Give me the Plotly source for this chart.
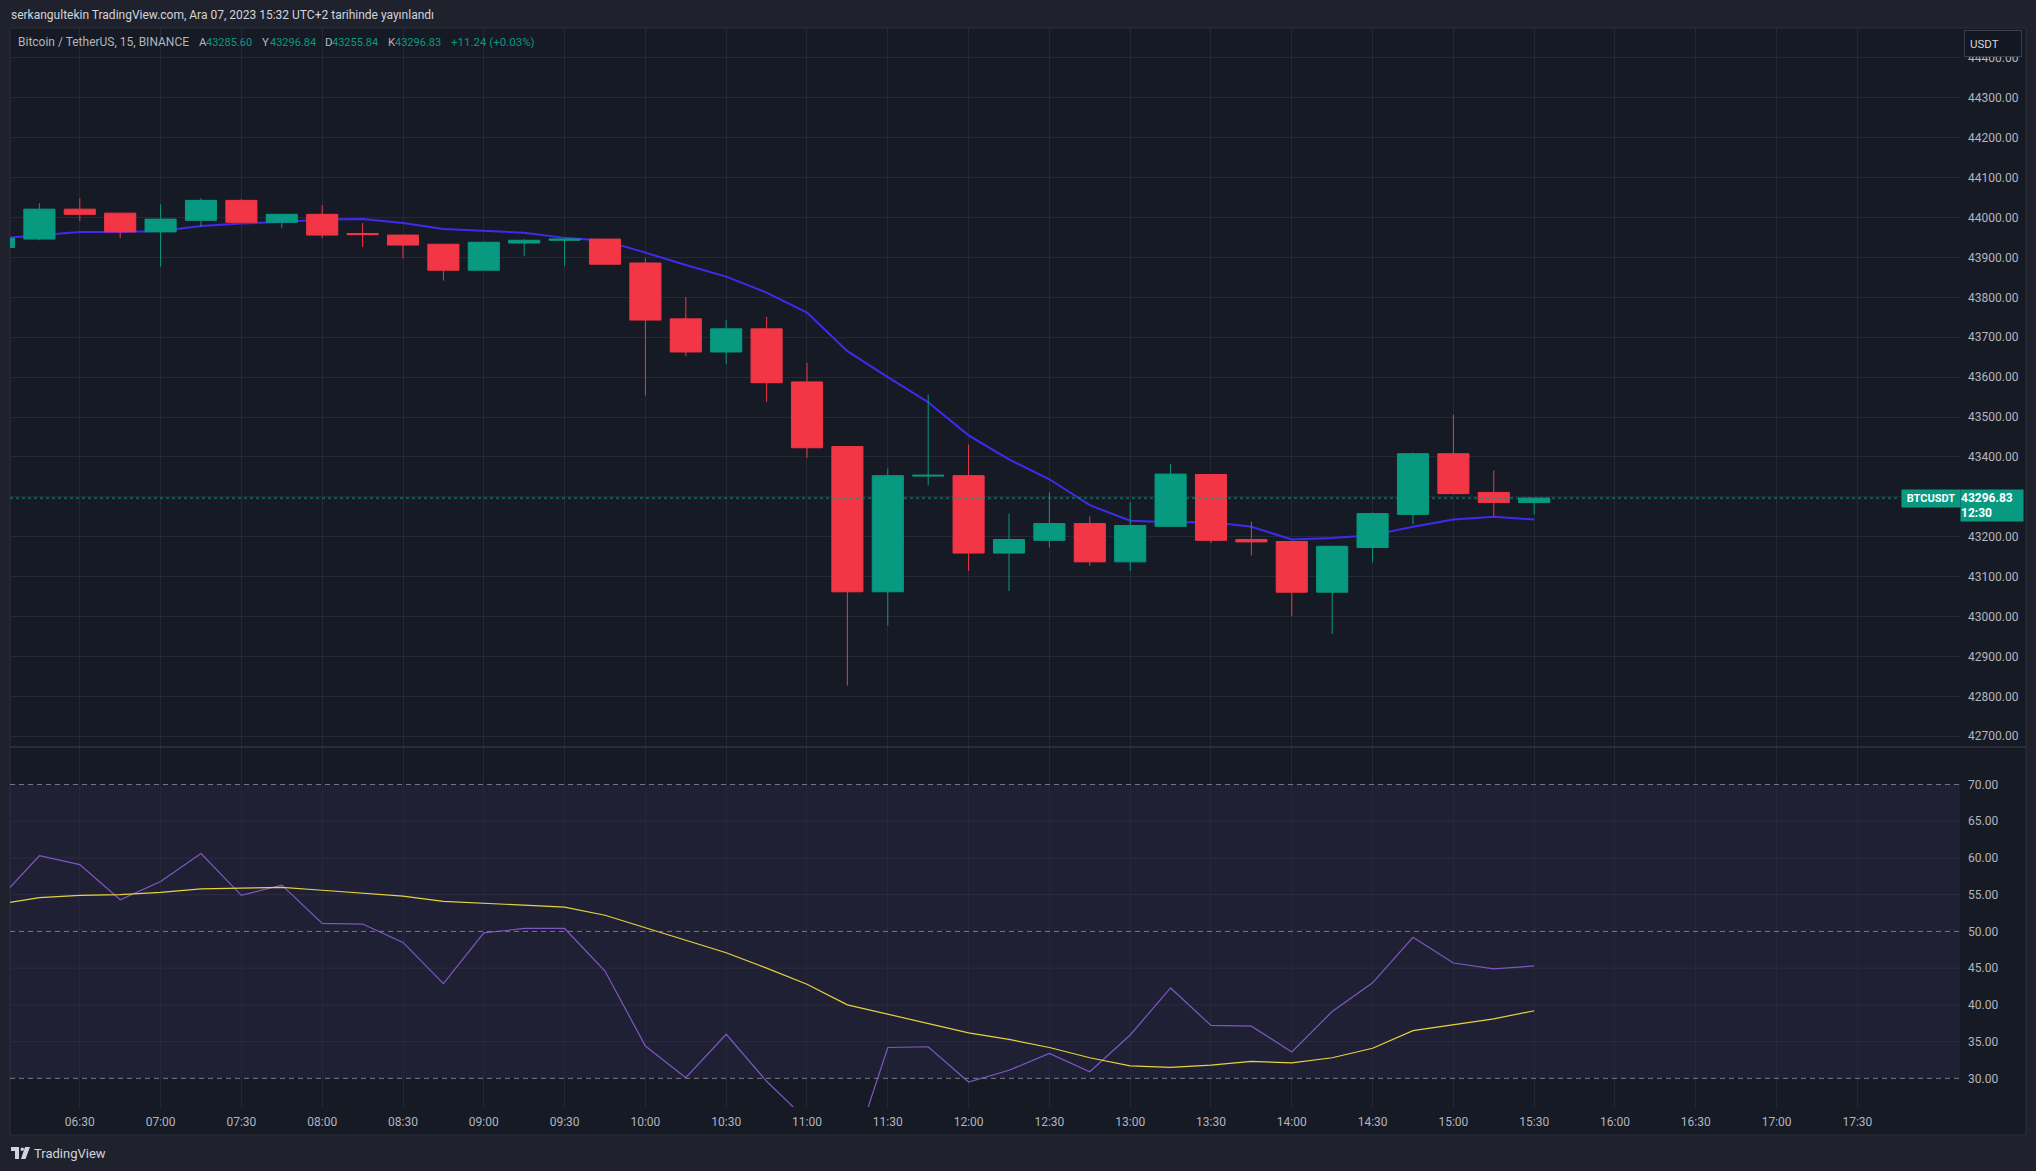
import plotly.graph_objects as go

W, H = 2036, 1171

# ---------------- data ----------------
times = [
    "2023-12-07 06:00", "2023-12-07 06:15", "2023-12-07 06:30", "2023-12-07 06:45",
    "2023-12-07 07:00", "2023-12-07 07:15", "2023-12-07 07:30", "2023-12-07 07:45",
    "2023-12-07 08:00", "2023-12-07 08:15", "2023-12-07 08:30", "2023-12-07 08:45",
    "2023-12-07 09:00", "2023-12-07 09:15", "2023-12-07 09:30", "2023-12-07 09:45",
    "2023-12-07 10:00", "2023-12-07 10:15", "2023-12-07 10:30", "2023-12-07 10:45",
    "2023-12-07 11:00", "2023-12-07 11:15", "2023-12-07 11:30", "2023-12-07 11:45",
    "2023-12-07 12:00", "2023-12-07 12:15", "2023-12-07 12:30", "2023-12-07 12:45",
    "2023-12-07 13:00", "2023-12-07 13:15", "2023-12-07 13:30", "2023-12-07 13:45",
    "2023-12-07 14:00", "2023-12-07 14:15", "2023-12-07 14:30", "2023-12-07 14:45",
    "2023-12-07 15:00", "2023-12-07 15:15", "2023-12-07 15:30",
]
opens = [43925, 43946, 44021, 44011, 43964, 43993, 44043, 43988, 44008, 43960,
         43956, 43933, 43868, 43936, 43943, 43946, 43886, 43746, 43663, 43721,
         43588, 43426, 43062, 43352, 43353, 43159, 43191, 43233, 43137, 43226,
         43356, 43193, 43188, 43061, 43173, 43256, 43408, 43311, 43285.60]
highs = [43953, 44036, 44048, 44011, 44033, 44048, 44046, 44008, 44031, 43986,
         43956, 43933, 43938, 43946, 43947, 43946, 43898, 43801, 43743, 43751,
         43636, 43426, 43371, 43556, 43431, 43258, 43311, 43251, 43286, 43382,
         43356, 43238, 43188, 43176, 43261, 43411, 43506, 43366, 43296.84]
lows = [43915, 43943, 43991, 43948, 43877, 43977, 43987, 43973, 43948, 43926,
        43898, 43842, 43868, 43903, 43878, 43883, 43554, 43653, 43633, 43538,
        43398, 42827, 42977, 43329, 43114, 43064, 43173, 43127, 43114, 43224,
        43184, 43153, 43001, 42956, 43136, 43231, 43306, 43251, 43255.84]
closes = [43948, 44021, 44008, 43964, 43996, 44043, 43988, 44008, 43956, 43957,
          43931, 43868, 43938, 43943, 43946, 43883, 43743, 43663, 43721, 43586,
          43423, 43062, 43353, 43354, 43159, 43193, 43233, 43137, 43228, 43357,
          43191, 43187, 43061, 43176, 43258, 43408, 43308, 43285.60, 43296.83]
ma_line = [43948, 43956, 43964, 43964, 43966, 43979, 43985, 43989, 43995, 43996,
           43986, 43971, 43967, 43962, 43949, 43942, 43912, 43881, 43852, 43812,
           43762, 43665, 43600, 43537, 43454, 43394, 43344, 43279, 43240, 43236,
           43237, 43225, 43193, 43197, 43204, 43225, 43243, 43250, 43243]
rsi = [54.4, 60.3, 59.1, 54.3, 56.8, 60.6, 54.9, 56.3, 51.1, 51.0,
       48.5, 42.9, 49.8, 50.4, 50.4, 44.6, 34.4, 30.1, 36.0, 29.6,
       24.3, 17.5, 34.2, 34.3, 29.5, 31.1, 33.4, 30.9, 35.9, 42.3,
       37.2, 37.1, 33.6, 39.1, 43.0, 49.2, 45.7, 44.9, 45.3]
rsi_ma = [53.7, 54.6, 54.9, 55.0, 55.3, 55.8, 55.9, 56.0, 55.6, 55.2,
          54.8, 54.1, 53.8, 53.6, 53.3, 52.2, 50.5, 48.7, 47.1, 45.0,
          42.8, 40.0, 38.7, 37.5, 36.2, 35.3, 34.2, 32.8, 31.7, 31.5,
          31.8, 32.3, 32.1, 32.8, 34.1, 36.5, 37.3, 38.1, 39.2]
last_price = 43296.83
price_ticks = [42700, 42800, 42900, 43000, 43100, 43200, 43300, 43400, 43500,
               43600, 43700, 43800, 43900, 44000, 44100, 44200, 44300, 44400]
# 43300.00 sits under the last-price box in the reference, so its label is blank
price_labels = ["42700.00", "42800.00", "42900.00", "43000.00", "43100.00",
                "43200.00", "", "43400.00", "43500.00", "43600.00", "43700.00",
                "43800.00", "43900.00", "44000.00", "44100.00", "44200.00",
                "44300.00", "44400.00"]
time_ticks = [
    "2023-12-07 06:00", "2023-12-07 06:30", "2023-12-07 07:00", "2023-12-07 07:30",
    "2023-12-07 08:00", "2023-12-07 08:30", "2023-12-07 09:00", "2023-12-07 09:30",
    "2023-12-07 10:00", "2023-12-07 10:30", "2023-12-07 11:00", "2023-12-07 11:30",
    "2023-12-07 12:00", "2023-12-07 12:30", "2023-12-07 13:00", "2023-12-07 13:30",
    "2023-12-07 14:00", "2023-12-07 14:30", "2023-12-07 15:00", "2023-12-07 15:30",
    "2023-12-07 16:00", "2023-12-07 16:30", "2023-12-07 17:00", "2023-12-07 17:30",
]
rsi_ticks = [30, 35, 40, 45, 50, 55, 60, 65, 70]
rsi_levels = [70, 50, 30]

header_text = "serkangultekin TradingView.com, Ara 07, 2023 15:32 UTC+2 tarihinde yayınlandı"
legend_items = [
    ("Bitcoin / TetherUS, 15, BINANCE", 17, "grey", 12),
    ("A", 197.5, "grey", 11.5), ("43285.60", 204.5, "green", 11),
    ("Y", 261, "grey", 11.5), ("43296.84", 268.5, "green", 11),
    ("D", 323.5, "grey", 11.5), ("43255.84", 330.5, "green", 11),
    ("K", 386.5, "grey", 11.5), ("43296.83", 393.5, "green", 11),
    ("+11.24 (+0.03%)", 450, "green", 11.5),
]

# ---------------- style ----------------
GREEN = "#089981"
RED = "#f23645"
FRAME = "#1f222d"
BG = "#161a25"
GRID = "#252935"
TXT = "#b2b5be"
FONT = "Roboto"


def px(x):
    return x / W


def py(y):
    return 1 - y / H


X0, X1 = 10, 1960
PRICE_TOP, SEP, RSI_BOT = 28, 747, 1107
x_range = ["2023-12-07 06:04:05", "2023-12-07 18:08:06"]
price_range = [42673, 44475]
rsi_range = [26.1, 75.1]

fig = go.Figure()

fig.add_trace(go.Scatter(x=times, y=ma_line, mode="lines", xaxis="x", yaxis="y",
                         line=dict(color="#3f2bf0", width=2), hoverinfo="skip"))
fig.add_trace(go.Candlestick(
    x=times, open=opens, high=highs, low=lows, close=closes,
    xaxis="x", yaxis="y3", whiskerwidth=0, hoverinfo="skip",
    increasing=dict(line=dict(color=GREEN, width=1), fillcolor=GREEN),
    decreasing=dict(line=dict(color=RED, width=1), fillcolor=RED),
))
fig.add_trace(go.Scatter(x=times, y=rsi, mode="lines", xaxis="x2", yaxis="y2",
                         line=dict(color="#7e57c2", width=1.2), hoverinfo="skip"))
fig.add_trace(go.Scatter(x=times, y=rsi_ma, mode="lines", xaxis="x2", yaxis="y2",
                         line=dict(color="#e6d23c", width=1.2), hoverinfo="skip"))

axis_font = dict(family=FONT, size=12, color=TXT)
common_x = dict(domain=[px(X0), px(X1)], range=x_range, type="date",
                showgrid=True, gridcolor=GRID, gridwidth=1,
                tickvals=time_ticks, tickformat="%H:%M",
                zeroline=False, showline=False, ticks="")

fig.update_layout(
    width=W, height=H, margin=dict(l=0, r=0, t=0, b=0),
    paper_bgcolor=FRAME, plot_bgcolor="rgba(0,0,0,0)",
    showlegend=False, hovermode=False, boxgap=0.23, boxgroupgap=0,
    font=dict(family=FONT, color=TXT),
    xaxis=dict(**common_x, anchor="y", showticklabels=False,
               rangeslider=dict(visible=False)),
    xaxis2=dict(**common_x, anchor="y2", matches="x", showticklabels=True,
                tickfont=axis_font, ticklabelstandoff=6),
    yaxis=dict(domain=[py(SEP), py(PRICE_TOP)], range=price_range, side="right",
               anchor="x", tickvals=price_ticks, ticktext=price_labels,
               showgrid=True, gridcolor=GRID, zeroline=False, showline=False,
               ticks="", tickfont=axis_font, ticklabelstandoff=7),
    yaxis3=dict(overlaying="y", range=price_range, visible=False, showgrid=False,
                anchor="x"),
    yaxis2=dict(domain=[py(RSI_BOT), py(SEP)], range=rsi_range, side="right",
                anchor="x2", tickvals=rsi_ticks, tickformat=".2f",
                showgrid=False, zeroline=False, showline=False,
                ticks="", tickfont=axis_font, ticklabelstandoff=7),
)

shapes = []
# chart area background
shapes.append(dict(type="rect", xref="paper", yref="paper",
                   x0=px(10), x1=px(2026), y0=py(1135), y1=py(28),
                   fillcolor=BG, line=dict(color="#2a2e39", width=1), layer="below"))
# RSI band
shapes.append(dict(type="rect", xref="x2 domain", yref="y2", x0=0, x1=1,
                   y0=30, y1=70, fillcolor="rgba(126,87,194,0.10)",
                   line=dict(width=0), layer="below"))
# RSI grid
for v in rsi_ticks:
    if v in rsi_levels:
        continue
    shapes.append(dict(type="line", xref="x2 domain", yref="y2", x0=0, x1=1,
                       y0=v, y1=v, line=dict(color="#2c2b3f", width=1), layer="below"))
# RSI level lines
for v in rsi_levels:
    shapes.append(dict(type="line", xref="x2 domain", yref="y2", x0=0, x1=1,
                       y0=v, y1=v, line=dict(color="#787b86", width=1, dash="5px,4px")))
# pane separator
shapes.append(dict(type="line", xref="paper", yref="paper", x0=px(10), x1=px(2026),
                   y0=py(SEP), y1=py(SEP), line=dict(color="#2a2e39", width=2)))
# last price dotted line
shapes.append(dict(type="line", xref="paper", yref="y", x0=px(X0), x1=px(1900),
                   y0=last_price, y1=last_price,
                   line=dict(color=GREEN, width=1, dash="dot")))
# TradingView logo (approx.)
logo_col = "#d1d4dc"
shapes += [
    dict(type="rect", xref="paper", yref="paper", x0=px(11), x1=px(19),
         y0=py(1151), y1=py(1147), fillcolor=logo_col, line=dict(width=0)),
    dict(type="rect", xref="paper", yref="paper", x0=px(15), x1=px(19),
         y0=py(1159), y1=py(1147), fillcolor=logo_col, line=dict(width=0)),
    dict(type="circle", xref="paper", yref="paper", x0=px(20.5), x1=px(24),
         y0=py(1151), y1=py(1147.5), fillcolor=logo_col, line=dict(width=0)),
    dict(type="path", xref="paper", yref="paper",
         path=f"M {px(25)} {py(1147)} L {px(30)} {py(1147)} L {px(25.5)} {py(1159)} L {px(21)} {py(1159)} Z",
         fillcolor=logo_col, line=dict(width=0)),
]
fig.update_layout(shapes=shapes)

ann = []
ann.append(dict(text=header_text, xref="paper", yref="paper", x=px(9), y=py(15),
                xanchor="left", yanchor="middle", showarrow=False,
                font=dict(family=FONT, size=12, color="#d1d4dc")))
for txt, xpos, col, fs in legend_items:
    ann.append(dict(text=txt, xref="paper", yref="paper", x=px(xpos), y=py(42),
                    xanchor="left", yanchor="middle", showarrow=False, borderpad=0,
                    font=dict(family=FONT, size=fs,
                              color=GREEN if col == "green" else "#b2b5be")))
# USDT box
ann.append(dict(text="USDT", xref="paper", yref="paper", x=px(1964), y=py(43.5),
                xanchor="left", yanchor="middle", showarrow=False, width=46, height=15,
                align="left", bgcolor="#131722", bordercolor="#3a3e4a", borderwidth=1,
                borderpad=5, font=dict(family=FONT, size=11.5, color="#d1d4dc")))
# last price boxes
ann.append(dict(text=f"<b>{last_price:.2f}</b><br><b>12:30</b>", xref="paper", yref="paper",
                x=px(1960), y=py(505.5), xanchor="left", yanchor="middle",
                showarrow=False, width=62, height=31, align="left", borderpad=0,
                bgcolor=GREEN, font=dict(family=FONT, size=12, color="#ffffff")))
ann.append(dict(text="<b>BTCUSDT</b>", xref="paper", yref="paper",
                x=px(1901), y=py(498.5), xanchor="left", yanchor="middle",
                showarrow=False, width=58, height=17, align="center", borderpad=0,
                bgcolor=GREEN, font=dict(family=FONT, size=11, color="#ffffff")))
ann.append(dict(text="TradingView", xref="paper", yref="paper", x=px(32), y=py(1153),
                xanchor="left", yanchor="middle", showarrow=False,
                font=dict(family=FONT, size=13, color="#d1d4dc")))
fig.update_layout(annotations=ann)

fig.write_html("out.html", config={"displayModeBar": False},
               post_script="document.body.style.margin='0';document.body.style.overflow='hidden';")
